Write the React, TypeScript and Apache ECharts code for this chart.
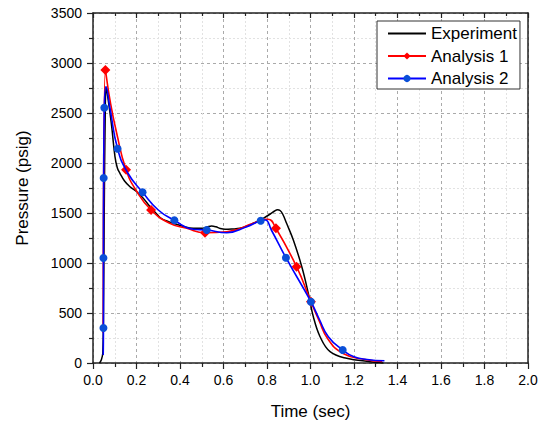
import React, { useEffect, useRef } from "react";
import * as echarts from "echarts";

const seriesNames = ["Experiment", "Analysis 1", "Analysis 2"];
const xTicks = [0, 0.2, 0.4, 0.6, 0.8, 1.0, 1.2, 1.4, 1.6, 1.8, 2.0];
const yTicks = [0, 500, 1000, 1500, 2000, 2500, 3000, 3500];

const expTime = [0.03, 0.038, 0.045, 0.049, 0.052, 0.056, 0.06, 0.065, 0.075, 0.086, 0.101, 0.112, 0.124, 0.145, 0.17, 0.2, 0.231, 0.26, 0.293, 0.315, 0.34, 0.369, 0.41, 0.461, 0.5, 0.525, 0.545, 0.565, 0.585, 0.607, 0.64, 0.676, 0.71, 0.737, 0.76, 0.783, 0.815, 0.835, 0.848, 0.86, 0.872, 0.89, 0.921, 0.96, 0.99, 1.013, 1.044, 1.09, 1.166, 1.274, 1.335];
const expPressure = [0, 30, 100, 700, 1600, 2450, 2760, 2700, 2550, 2363, 2063, 1950, 1897, 1820, 1763, 1715, 1647, 1570, 1490, 1445, 1420, 1397, 1370, 1347, 1347, 1360, 1370, 1362, 1345, 1337, 1340, 1347, 1370, 1397, 1420, 1447, 1490, 1520, 1532, 1525, 1490, 1397, 1230, 963, 697, 463, 263, 113, 47, 13, 0];

const a1Time = [0.047, 0.057, 0.078, 0.109, 0.152, 0.2, 0.267, 0.35, 0.431, 0.515, 0.615, 0.737, 0.785, 0.805, 0.841, 0.936, 1.002, 1.04, 1.08, 1.15, 1.25, 1.33];
const a1Pressure = [300, 2930, 2630, 2297, 1933, 1720, 1530, 1400, 1347, 1303, 1313, 1397, 1437, 1438, 1347, 963, 613, 420, 240, 95, 35, 15];
const a1Marked = [0, 1, 0, 0, 1, 0, 1, 0, 0, 1, 0, 0, 0, 0, 1, 1, 1, 0, 0, 0, 0, 0];

const a2Time = [0.047, 0.048, 0.048, 0.049, 0.052, 0.06, 0.078, 0.113, 0.16, 0.228, 0.3, 0.374, 0.461, 0.523, 0.615, 0.707, 0.771, 0.792, 0.82, 0.887, 1.002, 1.04, 1.082, 1.148, 1.2, 1.26, 1.34];
const a2Pressure = [80, 350, 1050, 1850, 2553, 2763, 2550, 2143, 1900, 1707, 1530, 1427, 1337, 1330, 1303, 1363, 1423, 1430, 1330, 1053, 613, 440, 263, 130, 63, 35, 22];
const a2Marked = [0, 1, 1, 1, 1, 0, 0, 1, 0, 1, 0, 1, 0, 1, 0, 0, 1, 0, 0, 1, 1, 0, 0, 1, 0, 0, 0];

const FONT = "'Liberation Sans', Arial, sans-serif";

function build(times: number[], values: number[], marked?: number[]) {
  return times.map((t, i) => {
    const item: any = { value: [t, values[i]] };
    if (marked && !marked[i]) item.symbol = "none";
    return item;
  });
}

export default function App() {
  const ref = useRef<HTMLDivElement>(null);
  useEffect(() => {
    if (!ref.current) return;
    const chart = echarts.init(ref.current, undefined, { renderer: "svg" });
    const axisColor = "#222";
    chart.setOption({
      animation: false,
      backgroundColor: "#fff",
      textStyle: { fontFamily: FONT },
      grid: { left: 93, right: 16, top: 13, bottom: 63, containLabel: false },
      legend: {
        data: [
          { name: seriesNames[0], itemStyle: { opacity: 0 } },
          { name: seriesNames[1] },
          { name: seriesNames[2] },
        ],
        orient: "vertical",
        left: 377,
        top: 21,
        padding: [4, 3, 2, 10],
        itemGap: 5.5,
        itemWidth: 38,
        itemHeight: 9,
        borderColor: "#333",
        borderWidth: 1,
        backgroundColor: "#fff",
        textStyle: { fontSize: 17, color: "#000", fontFamily: FONT },
      },
      xAxis: [
        {
          type: "value",
          min: xTicks[0],
          max: xTicks[xTicks.length - 1],
          interval: 0.2,
          name: "Time (sec)",
          nameLocation: "middle",
          nameGap: 40,
          nameTextStyle: { fontSize: 17, color: "#000", fontFamily: FONT },
          axisLine: { show: true, onZero: false, lineStyle: { color: axisColor, width: 1.5 } },
          axisTick: { show: true, inside: false, length: 6, lineStyle: { color: axisColor, width: 1.2 } },
          minorTick: { show: true, splitNumber: 2, length: 4, lineStyle: { color: axisColor, width: 1.2 } },
          axisLabel: { fontSize: 14, color: "#000", margin: 10, fontFamily: FONT, formatter: (v: number) => v.toFixed(1) },
          splitLine: { show: true, lineStyle: { color: "#aaa", type: [3, 3], width: 1 } },
          minorSplitLine: { show: true, lineStyle: { color: "#e2e2e2", type: [2, 2], width: 1 } },
        },
        {
          type: "value",
          position: "top",
          min: xTicks[0],
          max: xTicks[xTicks.length - 1],
          interval: 0.2,
          axisLine: { show: true, onZero: false, lineStyle: { color: axisColor, width: 1.5 } },
          axisTick: { show: true, inside: true, length: 5, lineStyle: { color: axisColor, width: 1.2 } },
          minorTick: { show: true, splitNumber: 2, length: 3, lineStyle: { color: axisColor, width: 1.2 } },
          axisLabel: { show: false },
          splitLine: { show: false },
        },
      ],
      yAxis: [
        {
          type: "value",
          min: yTicks[0],
          max: yTicks[yTicks.length - 1],
          interval: 500,
          name: "Pressure (psig)",
          nameLocation: "middle",
          nameGap: 62,
          nameTextStyle: { fontSize: 17, color: "#000", fontFamily: FONT },
          axisLine: { show: true, onZero: false, lineStyle: { color: axisColor, width: 1.5 } },
          axisTick: { show: true, inside: false, length: 6, lineStyle: { color: axisColor, width: 1.2 } },
          minorTick: { show: true, splitNumber: 2, length: 4, lineStyle: { color: axisColor, width: 1.2 } },
          axisLabel: { fontSize: 14, color: "#000", margin: 11, fontFamily: FONT, formatter: (v: number) => String(v) },
          splitLine: { show: true, lineStyle: { color: "#aaa", type: [3, 3], width: 1 } },
          minorSplitLine: { show: true, lineStyle: { color: "#e2e2e2", type: [2, 2], width: 1 } },
        },
        {
          type: "value",
          position: "right",
          min: yTicks[0],
          max: yTicks[yTicks.length - 1],
          interval: 500,
          axisLine: { show: true, onZero: false, lineStyle: { color: axisColor, width: 1.5 } },
          axisTick: { show: false },
          axisLabel: { show: false },
          splitLine: { show: false },
        },
      ],
      series: [
        {
          name: seriesNames[0],
          type: "line",
          data: build(expTime, expPressure),
          symbol: "none",
          smooth: 0.4,
          lineStyle: { color: "#000", width: 1.5 },
          itemStyle: { color: "#000" },
          z: 3,
        },
        {
          name: seriesNames[1],
          type: "line",
          data: build(a1Time, a1Pressure, a1Marked),
          symbol: "diamond",
          symbolSize: 10,
          showSymbol: true,
          smooth: 0.5,
          lineStyle: { color: "#ff0000", width: 1.6 },
          itemStyle: { color: "#ff0000" },
          z: 4,
        },
        {
          name: seriesNames[2],
          type: "line",
          data: build(a2Time, a2Pressure, a2Marked),
          symbol: "circle",
          symbolSize: 8,
          showSymbol: true,
          smooth: 0.5,
          lineStyle: { color: "#0000ff", width: 1.6 },
          itemStyle: { color: "#0a4fd8" },
          z: 5,
        },
      ],
    });
    return () => chart.dispose();
  }, []);
  return <div ref={ref} style={{ width: 544, height: 426, position: "absolute", left: 0, top: 0 }} />;
}
